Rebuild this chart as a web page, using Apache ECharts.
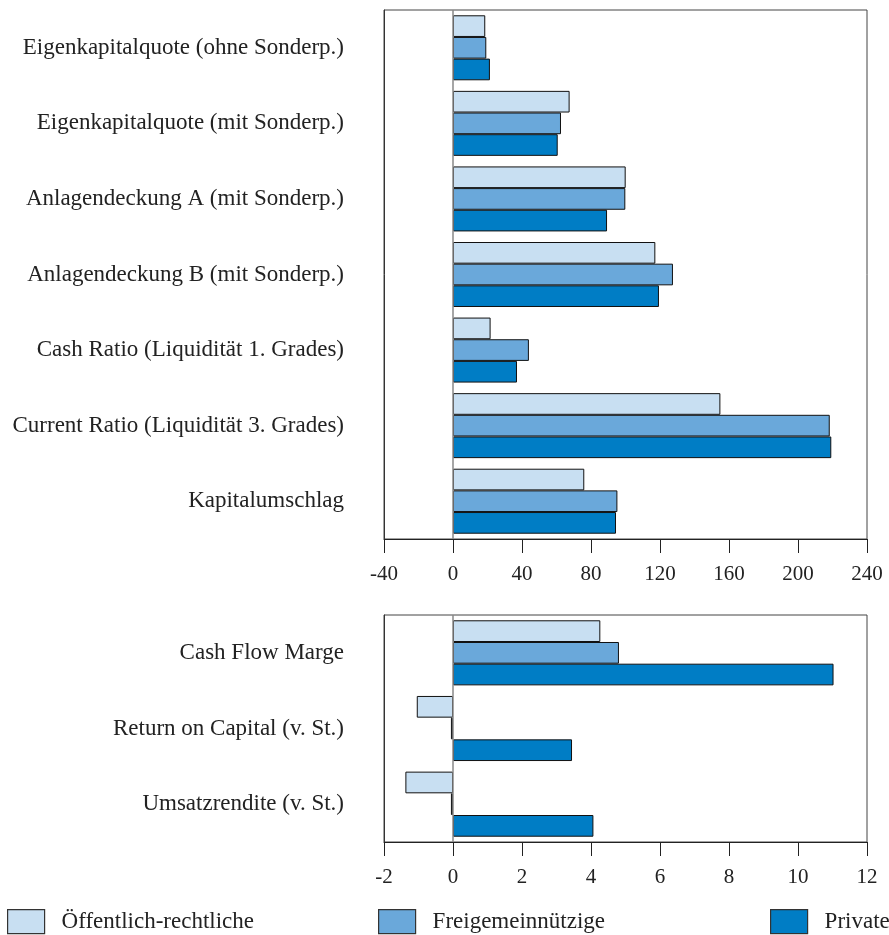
<!DOCTYPE html>
<html>
<head>
<meta charset="utf-8">
<script src="https://cdn.jsdelivr.net/npm/echarts@6/dist/echarts.min.js"></script>
<style>html,body{margin:0;padding:0;background:#fff}#c{width:889px;height:935px}</style>
</head>
<body>
<div id="c"></div>
<script>
const catsTop = ['Eigenkapitalquote (ohne Sonderp.)','Eigenkapitalquote (mit Sonderp.)','Anlagendeckung A (mit Sonderp.)','Anlagendeckung B (mit Sonderp.)','Cash Ratio (Liquidität 1. Grades)','Current Ratio (Liquidität 3. Grades)','Kapitalumschlag'];
const catsBottom = ['Cash Flow Marge','Return on Capital (v. St.)','Umsatzrendite (v. St.)'];
const seriesNames = ['Öffentlich-rechtliche','Freigemeinnützige','Private'];
const oeffTop = [18.7, 67.6, 100.1, 117.3, 21.8, 155.0, 76.1];
const freiTop = [19.3, 62.6, 99.9, 127.5, 44.0, 218.4, 95.3];
const privTop = [21.4, 60.7, 89.3, 119.4, 37.1, 219.3, 94.5];
const oeffBottom = [4.27, -1.05, -1.38];
const freiBottom = [4.81, -0.06, -0.06];
const privBottom = [11.03, 3.45, 4.07];
const topTicks = {min:-40, max:240, interval:40};
const bottomTicks = {min:-2, max:12, interval:2};

const colors = ['#c8dff2','#6aa8da','#007dc5'];
const font = 'Liberation Serif';
const chart = echarts.init(document.getElementById('c'));

function xAx(idx, t){
  return {gridIndex:idx, type:'value', min:t.min, max:t.max, interval:t.interval,
    axisLine:{show:true, onZero:false, lineStyle:{color:'#222', width:1}},
    axisTick:{show:true, length:14, lineStyle:{color:'#222'}},
    splitLine:{show:false},
    axisLabel:{color:'#222', fontFamily:font, fontSize:21, margin:25}};
}
function yAx(idx, cats){
  return {gridIndex:idx, type:'category', data:cats, inverse:true,
    axisLine:{show:true, onZero:false, lineStyle:{color:'#333'}},
    axisTick:{show:false},
    axisLabel:{color:'#222', fontFamily:font, fontSize:23, margin:40}};
}
function bar(name, data, i, gi){
  const s = {name:name, type:'bar', data:data, xAxisIndex:gi, yAxisIndex:gi,
    barGap:'0%', barCategoryGap:'14%',
    itemStyle:{color:colors[i], borderColor:'#111', borderWidth:1},
    emphasis:{disabled:true}, silent:true};
  if(i===0){
    s.markLine = {silent:true, symbol:['none','none'], label:{show:false},
      lineStyle:{color:'#888', type:'solid', width:1.5}, data:[{xAxis:0}]};
  }
  return s;
}
function leg(name, left){
  return {data:[name], left:left, top:904, itemWidth:37, itemHeight:24, itemGap:0,
    icon:'rect', selectedMode:false,
    itemStyle:{borderColor:'#333', borderWidth:1.2},
    textStyle:{fontFamily:font, fontSize:23, color:'#222', padding:[0,0,0,12]}};
}

chart.setOption({
  animation:false,
  grid:[
    {left:384, right:22, top:10, height:529, show:true, borderColor:'#444', borderWidth:1},
    {left:384, right:22, top:615, height:227, show:true, borderColor:'#444', borderWidth:1}
  ],
  xAxis:[xAx(0, topTicks), xAx(1, bottomTicks)],
  yAxis:[yAx(0, catsTop), yAx(1, catsBottom)],
  legend:[leg(seriesNames[0], 2), leg(seriesNames[1], 373), leg(seriesNames[2], 765)],
  series:[
    bar(seriesNames[0], oeffTop, 0, 0),
    bar(seriesNames[1], freiTop, 1, 0),
    bar(seriesNames[2], privTop, 2, 0),
    bar(seriesNames[0], oeffBottom, 0, 1),
    bar(seriesNames[1], freiBottom, 1, 1),
    bar(seriesNames[2], privBottom, 2, 1)
  ]
});
</script>
</body>
</html>
